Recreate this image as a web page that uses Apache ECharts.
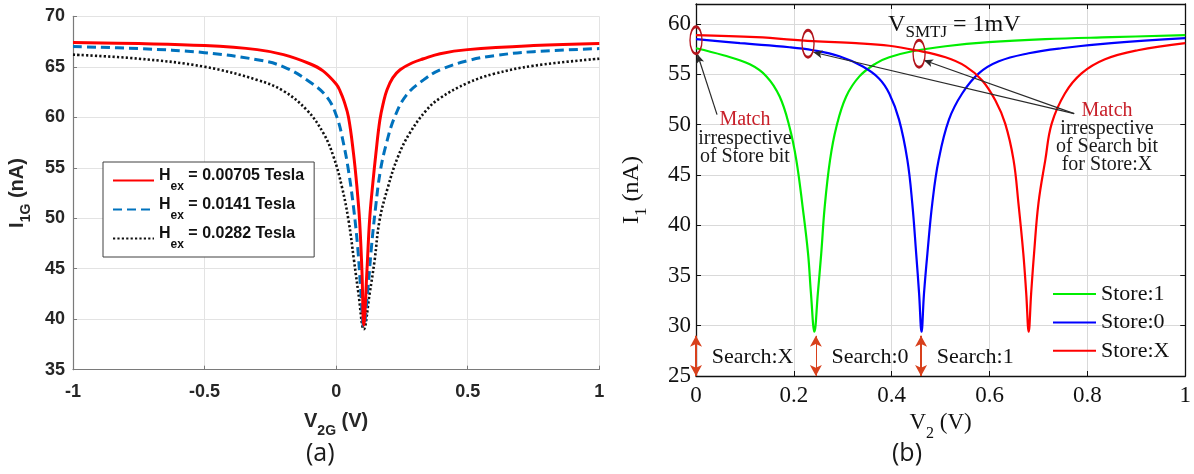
<!DOCTYPE html>
<html>
<head>
<meta charset="utf-8">
<script src="https://cdn.jsdelivr.net/npm/echarts@6/dist/echarts.min.js"></script>
<style>
  html, body { margin: 0; padding: 0; background: #fff; }
  #chart { width: 1194px; height: 474px; }
</style>
</head>
<body>
<div id="chart"></div>
<script>
// ---------- (a) I1G versus V2G for three external fields ----------
const hexNames = ['Hex1', 'Hex2', 'Hex3'];
const hexValues = ['0.00705', '0.0141', '0.0282'];

const hexLowCurve = [
  [-1, 67.4], [-0.75, 67.3], [-0.5, 67.1], [-0.3, 66.7], [-0.2, 66.2], [-0.1, 65.3],
  [-0.05, 64.6], [0, 63.3], [0.015, 62.6], [0.03, 61.6], [0.047, 60.0], [0.066, 56.4],
  [0.079, 53.1], [0.089, 49.8], [0.098, 44.8], [0.105, 39.4], [0.117, 44.8], [0.127, 49.8],
  [0.138, 53.1], [0.151, 56.4], [0.166, 59.7], [0.18, 61.5], [0.193, 62.7], [0.215, 63.9],
  [0.243, 64.7], [0.29, 65.4], [0.332, 65.8], [0.395, 66.3], [0.5, 66.7], [0.75, 67.1], [1, 67.3]
];
const hexMidCurve = [
  [-1, 67.0], [-0.75, 66.8], [-0.5, 66.4], [-0.3, 65.7], [-0.2, 65.0], [-0.1, 63.5],
  [-0.035, 62.0], [0.003, 60.0], [0.028, 57.4], [0.047, 54.7], [0.066, 51.1], [0.082, 47.1],
  [0.093, 43.1], [0.105, 39.3], [0.121, 43.1], [0.134, 47.1], [0.15, 51.1], [0.168, 54.7],
  [0.191, 57.4], [0.222, 60.0], [0.267, 62.2], [0.332, 63.7], [0.395, 64.7], [0.5, 65.6],
  [0.6, 66.1], [0.75, 66.5], [1, 66.8]
];
const hexHighCurve = [
  [-1, 66.2], [-0.75, 65.8], [-0.5, 65.0], [-0.3, 63.7], [-0.2, 62.6], [-0.111, 60.7],
  [-0.048, 58.4], [-0.01, 56.1], [0.022, 53.1], [0.047, 49.8], [0.068, 45.8], [0.085, 42.5],
  [0.105, 39.0], [0.127, 42.5], [0.146, 45.8], [0.165, 49.8], [0.197, 53.1], [0.235, 56.1],
  [0.279, 58.4], [0.343, 60.7], [0.395, 61.9], [0.5, 63.4], [0.6, 64.3], [0.75, 65.1], [1, 65.8]
];

// ---------- (b) I1 versus V2 for the three store states ----------
const storeNames = ['Store:1', 'Store:0', 'Store:X'];

const store1Curve = [
  [0, 57.6], [0.056, 56.9], [0.11, 56.0], [0.144, 54.8], [0.171, 52.8], [0.191, 49.8],
  [0.205, 46.5], [0.218, 41.8], [0.229, 37.2], [0.235, 33.2], [0.242, 29.4], [0.249, 33.2],
  [0.256, 37.2], [0.263, 41.8], [0.274, 46.5], [0.287, 49.8], [0.307, 52.8], [0.334, 54.8],
  [0.368, 56.1], [0.395, 56.7], [0.442, 57.3], [0.51, 57.8], [0.598, 58.2], [0.714, 58.5],
  [0.849, 58.7], [1, 58.9]
];
const store0Curve = [
  [0, 58.5], [0.09, 58.1], [0.191, 57.7], [0.239, 57.4], [0.293, 56.8], [0.34, 55.8],
  [0.374, 54.6], [0.395, 53.1], [0.415, 50.5], [0.432, 46.5], [0.442, 42.2], [0.45, 37.2],
  [0.456, 33.2], [0.461, 29.4], [0.466, 33.2], [0.473, 37.2], [0.483, 42.2], [0.496, 46.5],
  [0.517, 50.5], [0.544, 53.1], [0.578, 55.1], [0.619, 56.3], [0.68, 57.1], [0.747, 57.6],
  [0.849, 58.1], [1, 58.6]
];
const storeXCurve = [
  [0, 58.9], [0.123, 58.7], [0.239, 58.3], [0.327, 58.1], [0.395, 57.85], [0.449, 57.4],
  [0.51, 56.7], [0.551, 55.8], [0.585, 54.4], [0.612, 52.4], [0.632, 50.1], [0.649, 46.5],
  [0.659, 42.2], [0.669, 37.2], [0.675, 33.2], [0.68, 29.4], [0.685, 33.2], [0.691, 37.2],
  [0.7, 42.2], [0.714, 46.5], [0.727, 50.1], [0.754, 53.1], [0.788, 55.1], [0.836, 56.5],
  [0.903, 57.4], [1, 58.1]
];

// search-bit markers along the bottom of panel (b)
const searchVoltages = [0, 0.245, 0.46];
const searchLabels = ['Search:X', 'Search:0', 'Search:1'];
// match points circled on the top curves
const matchPoints = [[0, 58.4], [0.229, 58.05], [0.456, 57.05]];

const SANS = '"Liberation Sans", Arial, sans-serif';
const SERIF = '"Liberation Serif", "Times New Roman", serif';
const INK_A = '#262626';
const ELLIPSE = 'path://M6,0A6,13.5,0,1,1,6,27A6,13.5,0,1,1,6,0Z';
const ARROW_RED = '#d8401c';
const SMOOTH = 0.4;

function subText(main, sub, tail, size, subSize, family, weight, lh) {
  const color = weight === 'bold' ? INK_A : '#111';
  return {
    text: `{m|${main}}{s|${sub}}{m|${tail}}`,
    rich: {
      m: { fontFamily: family, fontWeight: weight, fontSize: size, lineHeight: lh, verticalAlign: 'top', color },
      s: { fontFamily: family, fontWeight: weight, fontSize: subSize, lineHeight: Math.round(subSize * 1.05), verticalAlign: 'bottom', color }
    }
  };
}

const yNameA = subText('I', '1G', ' (nA)', 20, 14, SANS, 'bold', 26);
const xNameA = subText('V', '2G', ' (V)', 20, 14, SANS, 'bold', 26);
const yNameB = subText('I', '1', ' (nA)', 24, 17, SERIF, 'normal', 30);
const xNameB = subText('V', '2', ' (V)', 23, 16, SERIF, 'normal', 30);

// line-only legend keys (the hidden marker keeps just the stroke sample)
const hiddenMarker = { color: 'transparent', borderColor: 'transparent', borderWidth: 0, opacity: 0 };

const chart = echarts.init(document.getElementById('chart'), null, { renderer: 'canvas' });

const searchArrows = searchVoltages.map((v, i) => [
  { coord: [v, 25], symbol: 'arrow', symbolSize: [9, 11], lineStyle: { color: ARROW_RED, width: i === 1 ? 1 : 2, curveness: 0 } },
  { coord: [v, 29], symbol: 'arrow', symbolSize: [9, 11] }
]);

const option = {
  animation: false,
  backgroundColor: '#fff',
  grid: [
    { left: 73, top: 16.3, width: 526.3, height: 353.4, containLabel: false },
    { left: 696, top: 4, width: 491.5, height: 372, containLabel: false }
  ],
  legend: [
    {
      data: hexNames,
      orient: 'vertical',
      left: 103, top: 162,
      padding: [6, 10, 6, 9],
      itemGap: 4,
      itemWidth: 41, itemHeight: 14,
      backgroundColor: '#fff',
      borderColor: '#404040', borderWidth: 1,
      itemStyle: hiddenMarker,
      formatter: name => {
        const val = hexValues[hexNames.indexOf(name)];
        return `{h|H}{s|ex}{h| = ${val} Tesla}`;
      },
      textStyle: {
        rich: {
          h: { fontFamily: SANS, fontWeight: 'bold', fontSize: 16, color: '#111', lineHeight: 25, verticalAlign: 'top' },
          s: { fontFamily: SANS, fontWeight: 'bold', fontSize: 12, color: '#111', lineHeight: 13, verticalAlign: 'bottom' }
        }
      }
    },
    {
      data: storeNames,
      orient: 'vertical',
      left: 1052, top: 282,
      padding: 0,
      itemGap: 4.4,
      itemWidth: 43, itemHeight: 14,
      itemStyle: hiddenMarker,
      textStyle: { fontFamily: SERIF, fontSize: 22, color: '#111', lineHeight: 24 }
    }
  ],
  xAxis: [
    {
      gridIndex: 0, type: 'value', min: -1, max: 1, interval: 0.5,
      name: xNameA.text, nameLocation: 'middle', nameGap: 42,
      nameTextStyle: { rich: xNameA.rich },
      axisLine: { show: true, onZero: false, lineStyle: { color: '#7a7a7a', width: 1.2 } },
      axisTick: { show: true, inside: true, length: 4, lineStyle: { color: '#7a7a7a' } },
      axisLabel: { margin: 13, fontFamily: SANS, fontWeight: 'bold', fontSize: 18, color: INK_A },
      splitLine: { show: true, lineStyle: { color: '#e3e3e3', width: 1 } }
    },
    {
      gridIndex: 1, type: 'value', min: 0, max: 1, interval: 0.2,
      name: xNameB.text, nameLocation: 'middle', nameGap: 26,
      nameTextStyle: { rich: xNameB.rich },
      axisLine: { show: true, onZero: false, lineStyle: { color: '#111', width: 1.3 } },
      axisTick: { show: true, inside: true, length: 5, lineStyle: { color: '#111' } },
      axisLabel: { margin: 8, fontFamily: SERIF, fontSize: 23, color: '#111' },
      splitLine: { show: true, lineStyle: { color: '#d9d9d9', width: 1 } }
    },
    {
      gridIndex: 1, type: 'value', min: 0, max: 1, interval: 0.2, position: 'top',
      axisLine: { show: true, onZero: false, lineStyle: { color: '#111', width: 1.3 } },
      axisTick: { show: true, inside: true, length: 5, lineStyle: { color: '#111' } },
      axisLabel: { show: false }, splitLine: { show: false }
    }
  ],
  yAxis: [
    {
      gridIndex: 0, type: 'value', min: 35, max: 70, interval: 5,
      name: yNameA.text, nameLocation: 'middle', nameGap: 40, nameRotate: 90,
      nameTextStyle: { rich: yNameA.rich },
      axisLine: { show: true, onZero: false, lineStyle: { color: '#7a7a7a', width: 1.2 } },
      axisTick: { show: true, inside: true, length: 4, lineStyle: { color: '#7a7a7a' } },
      axisLabel: { margin: 8, fontFamily: SANS, fontWeight: 'bold', fontSize: 18, color: INK_A },
      splitLine: { show: true, lineStyle: { color: '#e3e3e3', width: 1 } }
    },
    {
      gridIndex: 1, type: 'value', min: 25, max: 62, interval: 5,
      name: yNameB.text, nameLocation: 'middle', nameGap: 46, nameRotate: 90,
      nameTextStyle: { rich: yNameB.rich },
      axisLine: { show: true, onZero: false, lineStyle: { color: '#111', width: 1.3 } },
      axisTick: { show: true, inside: true, length: 5, lineStyle: { color: '#111' } },
      axisLabel: { margin: 5, fontFamily: SERIF, fontSize: 23, color: '#111', showMaxLabel: false },
      splitLine: { show: true, lineStyle: { color: '#d9d9d9', width: 1 } }
    },
    {
      gridIndex: 1, type: 'value', min: 25, max: 62, interval: 5, position: 'right',
      axisLine: { show: true, onZero: false, lineStyle: { color: '#111', width: 1.3 } },
      axisTick: { show: true, inside: true, length: 5, lineStyle: { color: '#111' } },
      axisLabel: { show: false }, splitLine: { show: false }
    }
  ],
  series: [
    {
      name: 'Hex3', type: 'line', xAxisIndex: 0, yAxisIndex: 0, data: hexHighCurve,
      symbol: 'none', smooth: SMOOTH,
      lineStyle: { color: '#111', width: 2.6, type: [2.2, 2.2] }, itemStyle: { color: '#111' }
    },
    {
      name: 'Hex2', type: 'line', xAxisIndex: 0, yAxisIndex: 0, data: hexMidCurve,
      symbol: 'none', smooth: SMOOTH,
      lineStyle: { color: '#0072bd', width: 3, type: [9, 5] }, itemStyle: { color: '#0072bd' }
    },
    {
      name: 'Hex1', type: 'line', xAxisIndex: 0, yAxisIndex: 0, data: hexLowCurve,
      symbol: 'none', smooth: SMOOTH,
      lineStyle: { color: '#ff0000', width: 3 }, itemStyle: { color: '#ff0000' }
    },
    {
      name: 'Store:1', type: 'line', xAxisIndex: 1, yAxisIndex: 1, data: store1Curve,
      symbol: 'none', smooth: SMOOTH,
      lineStyle: { color: '#00ee00', width: 2.2 }, itemStyle: { color: '#00ee00' }
    },
    {
      name: 'Store:0', type: 'line', xAxisIndex: 1, yAxisIndex: 1, data: store0Curve,
      symbol: 'none', smooth: SMOOTH,
      lineStyle: { color: '#0000ff', width: 2.2 }, itemStyle: { color: '#0000ff' }
    },
    {
      name: 'Store:X', type: 'line', xAxisIndex: 1, yAxisIndex: 1, data: storeXCurve,
      symbol: 'none', smooth: SMOOTH,
      lineStyle: { color: '#ff0000', width: 2.2 }, itemStyle: { color: '#ff0000' },
      markLine: {
        silent: true, animation: false,
        symbol: ['none', 'arrow'], symbolSize: [6, 9],
        label: { show: false },
        lineStyle: { color: '#2a2a2a', width: 1.2, type: 'solid' },
        emphasis: { disabled: true },
        data: [
          [{ coord: [0.043, 51.0], lineStyle: { curveness: 0.15 } }, { coord: [0.003, 57.0] }],
          [{ coord: [0.773, 51.1], lineStyle: { curveness: 0.1 } }, { coord: [0.24, 57.2] }],
          [{ coord: [0.773, 51.1], lineStyle: { curveness: 0.18 } }, { coord: [0.466, 56.4] }]
        ].concat(searchArrows)
      },
      markPoint: {
        silent: true, animation: false,
        emphasis: { disabled: true },
        data: matchPoints.map(c => ({
          coord: c, symbol: ELLIPSE, symbolSize: [12, 27],
          itemStyle: { color: 'transparent', borderColor: '#b3141c', borderWidth: 2 },
          label: { show: false }
        })).concat([
          {
            coord: [0.1, 48.6], symbol: 'circle', symbolSize: 1, itemStyle: { color: 'transparent' },
            label: {
              show: true, position: 'inside',
              formatter: '{r|Match}\n{k|irrespective}\n{k|of Store bit}',
              rich: {
                r: { fontFamily: SERIF, fontSize: 20, color: '#c8202a', lineHeight: 18.5 },
                k: { fontFamily: SERIF, fontSize: 20, color: '#1a1a1a', lineHeight: 18.5 }
              }
            }
          },
          {
            coord: [0.84, 48.7], symbol: 'circle', symbolSize: 1, itemStyle: { color: 'transparent' },
            label: {
              show: true, position: 'inside',
              formatter: '{r|Match}\n{k|irrespective}\n{k|of Search bit}\n{k|for Store:X}',
              rich: {
                r: { fontFamily: SERIF, fontSize: 20, color: '#c8202a', lineHeight: 18.3 },
                k: { fontFamily: SERIF, fontSize: 20, color: '#1a1a1a', lineHeight: 18.3 }
              }
            }
          },
          {
            coord: [0.528, 59.7], symbol: 'circle', symbolSize: 1, itemStyle: { color: 'transparent' },
            label: {
              show: true, position: 'inside',
              formatter: '{v|V}{s|SMTJ}{v| = 1mV}',
              rich: {
                v: { fontFamily: SERIF, fontSize: 24, color: '#111', lineHeight: 28, verticalAlign: 'top' },
                s: { fontFamily: SERIF, fontSize: 17, color: '#111', lineHeight: 17, verticalAlign: 'bottom' }
              }
            }
          }
        ]).concat(searchVoltages.map((v, i) => ({
          coord: [v + 0.032, 26.9], symbol: 'circle', symbolSize: 1, itemStyle: { color: 'transparent' },
          label: {
            show: true, position: 'inside', align: 'left',
            formatter: searchLabels[i],
            fontFamily: SERIF, fontSize: 22, color: '#111'
          }
        })))
      }
    }
  ],
  graphic: [
    { type: 'text', left: 306, top: 441, style: { text: '(a)', font: '25px "Open Sans", sans-serif', fill: '#1a1a1a' } },
    { type: 'text', left: 892, top: 441, style: { text: '(b)', font: '25px "Open Sans", sans-serif', fill: '#1a1a1a' } }
  ]
};

chart.setOption(option);
</script>
</body>
</html>
